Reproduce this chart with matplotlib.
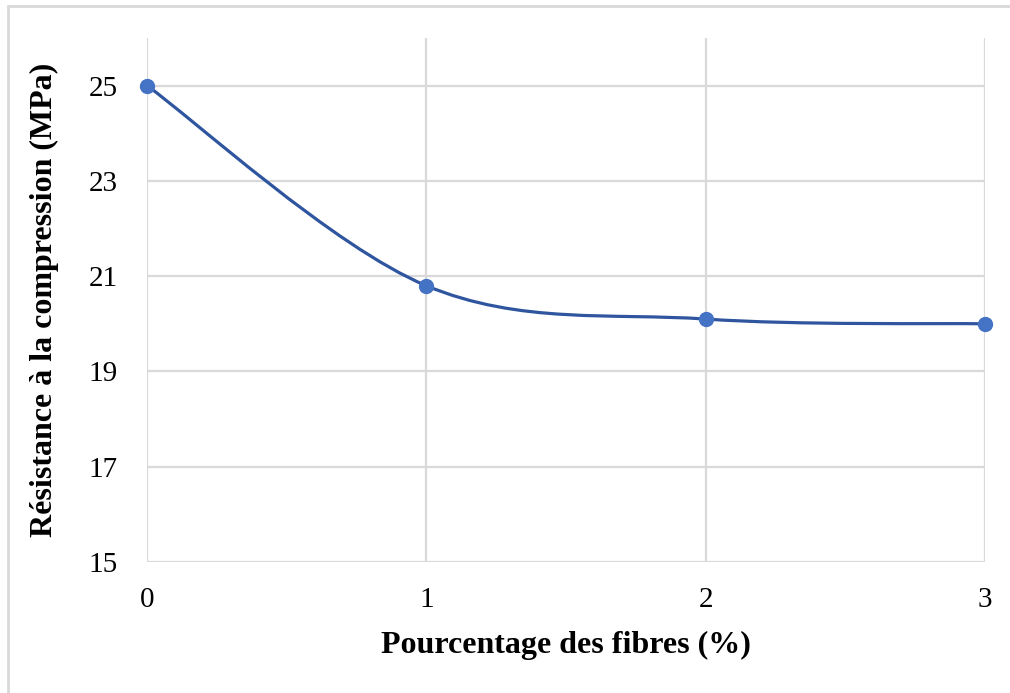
import matplotlib
matplotlib.use("Agg")
import matplotlib.pyplot as plt
import numpy as np
from matplotlib.path import Path
from matplotlib.patches import PathPatch, Rectangle

x_vals = [0, 1, 2, 3]
y_vals = [25.0, 20.8, 20.1, 20.0]
y_ticks = [15, 17, 19, 21, 23, 25]
x_ticks = [0, 1, 2, 3]
x_label = "Pourcentage des fibres (%)"
y_label = "Résistance à la compression (MPa)"

plt.rcParams['font.family'] = ['Liberation Serif', 'DejaVu Serif']

fig = plt.figure(figsize=(10.10, 6.93), dpi=100)
ax = fig.add_axes([147/1010, 1-562/693, (985-147)/1010, (562-38)/693])

# Outer chart border (left and top visible)
fig.patches.append(Rectangle((8/1010, -0.1), 1.2, (693-6)/693 + 0.1, transform=fig.transFigure,
                             fill=False, edgecolor='#d9d9d9', linewidth=2))

# Excel-like smoothed line (Bezier, tangent factor 1/6)
pts = np.column_stack([x_vals, y_vals]).astype(float)
n = len(pts)
verts = [tuple(pts[0])]
codes = [Path.MOVETO]
for i in range(n - 1):
    p0 = pts[i - 1] if i > 0 else pts[i]
    p1 = pts[i]
    p2 = pts[i + 1]
    p3 = pts[i + 2] if i + 2 < n else pts[i + 1]
    c1 = p1 + (p2 - p0) / 6.0
    c2 = p2 - (p3 - p1) / 6.0
    verts += [tuple(c1), tuple(c2), tuple(p2)]
    codes += [Path.CURVE4] * 3
path = Path(verts, codes)
ax.add_patch(PathPatch(path, facecolor='none', edgecolor='#2f559f', linewidth=2.3,
                       capstyle='round', zorder=3))
ax.plot(x_vals, y_vals, linestyle='none', marker='o', markersize=10,
        color='#4472c4', zorder=4, clip_on=False)

ax.set_xlim(0, 3)
ax.set_ylim(15, 26)
ax.set_xticks(x_ticks)
ax.set_yticks(y_ticks)
ax.grid(True, color='#d9d9d9', linewidth=1.6)
ax.set_axisbelow(True)
for s in ['top', 'right', 'left', 'bottom']:
    ax.spines[s].set_visible(False)
ax.tick_params(axis='both', length=0, labelsize=21, colors='black')
ax.tick_params(axis='x', pad=18)
ax.tick_params(axis='y', pad=21)
ax.set_xlabel(x_label, fontsize=23, fontweight='bold', labelpad=13)
ax.set_ylabel(y_label, fontsize=23, fontweight='bold', labelpad=21)

fig.savefig("out.png", dpi=100)
